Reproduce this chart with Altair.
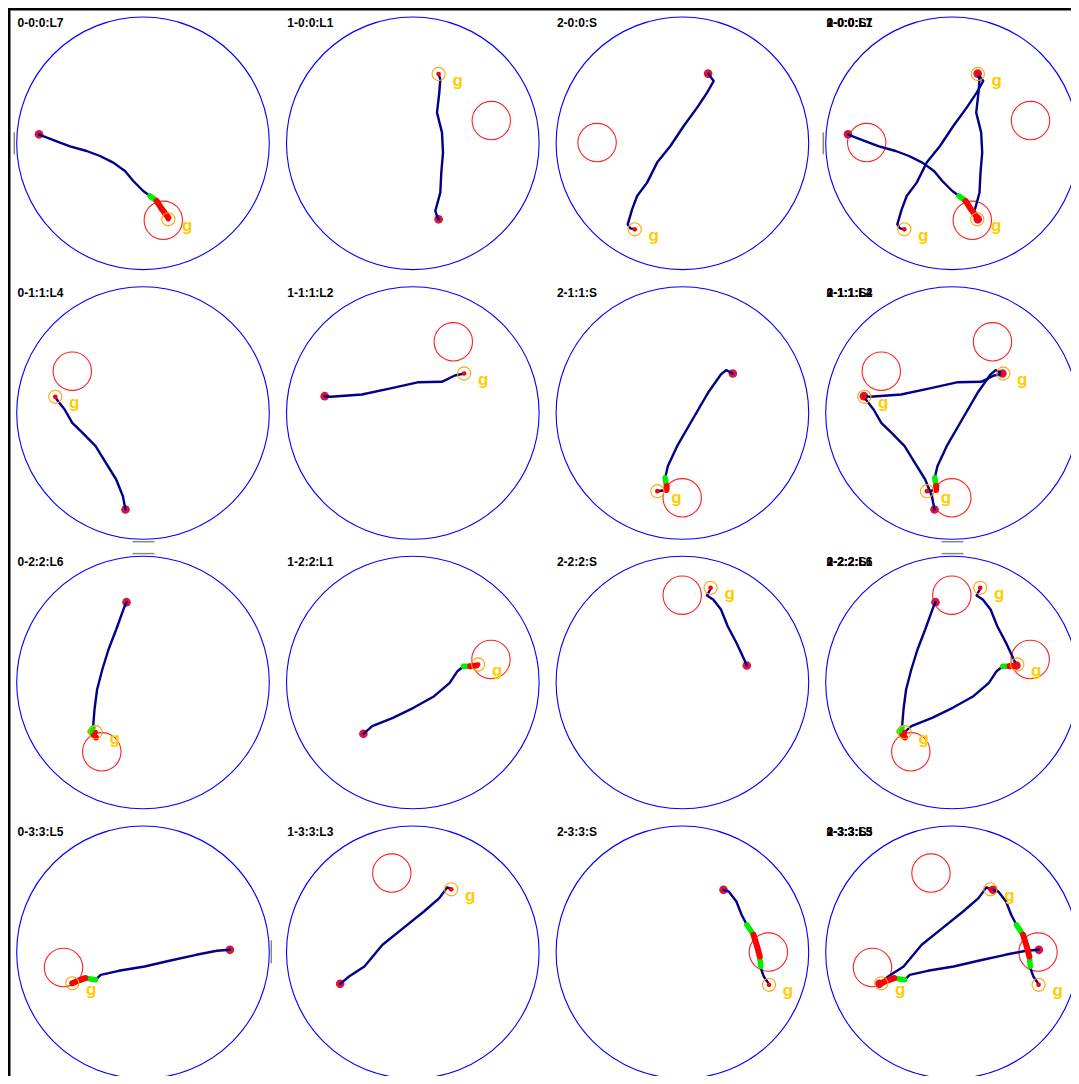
import altair as alt
import pandas as pd

# ---- layout of the 4x4 grid of arenas (page pixels) ----
CX = [143.0, 412.8, 682.4, 952.0]
CY = [143.3, 413.0, 682.5, 952.3]
ARENA_R = 126.3
ZONE_R = 19.2
RING_R = 6.6

LABELS = [["L7", "L1", "S"], ["L4", "L2", "S"], ["L6", "L1", "S"], ["L5", "L3", "S"]]

# ---- trajectories, local coords relative to arena centre (y down) ----
PATH_00 = [(-104, -9), (-101.3, -7.7), (-83, -0.7), (-73, 3), (-56.3, 7.7), (-43, 12.7), (-29.7, 19.3),
           (-18, 27.7), (-9.7, 37.7), (0.3, 47.7), (7, 52.7), (13.7, 57.7), (19, 66), (25.3, 74.3)]
PATH_01 = [(25.8, 76), (24.2, 72.7), (22.5, 67.7), (27.5, 49.3), (28.5, 29.3), (30.2, 9.3), (29.2, -10.7),
           (24.2, -30.7), (26.5, -50.7), (27.5, -64), (25.8, -69.3)]
PATH_02 = [(25.7, -69.7), (31.3, -62.3), (24.7, -50.7), (14.7, -35.7), (1.3, -17.3), (-12, 2.7), (-25.3, 19.3),
           (-35.3, 39.3), (-45.3, 52.7), (-50.3, 66), (-54.7, 81), (-52, 85), (-47.7, 86)]
PATH_10 = [(-17.5, 96.5), (-20.1, 83.2), (-26.8, 66.5), (-37.1, 49.8), (-47.4, 33.2), (-60.4, 19.8),
           (-70.7, 9.8), (-78.4, -3.5), (-86.2, -13.5), (-87.7, -16.2)]
PATH_11 = [(-88.1, -16.8), (-81.9, -16.2), (-50.9, -18.5), (-19.9, -25.2), (5.9, -30.8), (29.1, -31.2),
           (42, -37.5), (51.3, -39.5)]
PATH_12 = [(50.4, -39.5), (43.7, -42.8), (38.5, -38.5), (25.6, -20.2), (10.1, 6.5), (-5.3, 33.2),
           (-14.6, 53.2), (-17.2, 64.8), (-15.7, 74.8), (-16, 77), (-25, 78.2)]
PATH_20 = [(-16.5, -80.3), (-19, -74.7), (-26.8, -53), (-34.5, -33), (-40.7, -13), (-45.9, 7), (-48.5, 27),
           (-50, 45.3), (-53, 49), (-48, 54)]
PATH_21 = [(-49.4, 51.3), (-40.6, 43.7), (-19.9, 35.3), (0.7, 25.3), (21.4, 13.7), (36.9, 0.3), (44.6, -11.3),
           (50.8, -16.3), (57.5, -16.3), (63.7, -17)]
PATH_22 = [(64.4, -17), (61.8, -23), (54, -39.7), (45.3, -56.3), (38.6, -73), (30.8, -83), (24.6, -87),
           (28.2, -93.7)]
PATH_30 = [(86.9, -2.5), (73.9, -1.5), (53.3, 2.5), (27.5, 8.2), (1.6, 14.2), (-24.2, 18.5), (-42.3, 22.5),
           (-47.4, 27.5), (-50, 27.5), (-57.8, 25.8), (-64, 28), (-70.7, 31)]
PATH_31 = [(-72.6, 31.5), (-63.8, 24.2), (-48.4, 14.2), (-30.3, -7.5), (-9.6, -24.2), (11.1, -40.8),
           (26.5, -54.2), (34.3, -64.8), (38.4, -63.5)]
PATH_32 = [(41.1, -62.5), (46.3, -60.8), (54, -50.8), (59.2, -37.5), (64.4, -27.5), (71.1, -17.5),
           (75, -5), (77.3, 4.2), (78.3, 14.2), (78.3, 15.8), (81.4, 24.2), (86.6, 31.8)]

PATHS = [[PATH_00, PATH_01, PATH_02], [PATH_10, PATH_11, PATH_12],
         [PATH_20, PATH_21, PATH_22], [PATH_30, PATH_31, PATH_32]]

GOALS = [[(25.3, 76), (25.8, -69.3), (-47.7, 86)],
         [(-87.7, -16.2), (51.3, -39.5), (-25, 78.2)],
         [(-47.4, 49.7), (65.3, -18), (28.2, -94.7)],
         [(-70.7, 31), (38.4, -63), (86.6, 32.5)]]
ZONES = [[(20.3, 77), (78.5, -22.7), (-85.3, -0.7)],
         [(-70.7, -41.8), (40.5, -71.2), (-0.2, 84.8)],
         [(-41.2, 69.3), (78.2, -23), (-0.2, -87.3)],
         [(-79.5, 15.2), (-21, -79.2), (86, -0.2)]]

GREEN_SEGS = {
    (0, 0): [[(7, 52.7), (13.7, 57.7)]],
    (1, 2): [[(-17.2, 64.8), (-15.7, 74.8)]],
    (2, 0): [[(-50, 45.3), (-53, 49), (-48, 54)]],
    (2, 1): [[(50.8, -16.3), (57.5, -16.3)]],
    (3, 0): [[(-47.4, 27.5), (-57.8, 25.8)]],
    (3, 2): [[(64.4, -27.5), (71.1, -17.5)], [(77.3, 4.2), (78.3, 14.2)]],
}
RED_SEGS = {
    (0, 0): [[(13.7, 57.7), (19, 66), (25.3, 74.3)]],
    (1, 2): [[(-15.7, 73), (-16, 77)]],
    (2, 0): [[(-49, 53), (-47, 55)]],
    (2, 1): [[(57.5, -16.3), (63.7, -17)]],
    (3, 0): [[(-57.8, 25.8), (-64, 28), (-70.7, 31)]],
    (3, 2): [[(71.1, -17.5), (75, -5), (77.3, 4.2)]],
}

# small grey tick artefacts: (row, col, side)
MARKERS = [(0, 0, "left"), (0, 3, "left"), (1, 0, "bottom"), (1, 3, "bottom"),
           (2, 0, "top"), (2, 3, "top"), (3, 0, "right")]

# ---- build tables ----
arenas = pd.DataFrame([{"x": CX[c], "y": CY[r]} for r in range(4) for c in range(4)])
zones, goals, starts, lines, greens, reds, titles = [], [], [], [], [], [], []
for r in range(4):
    for c in range(3):
        for pc in (c, 3):
            ox, oy = CX[pc], CY[r]
            zx, zy = ZONES[r][c]
            zones.append({"x": ox + zx, "y": oy + zy})
            gx, gy = GOALS[r][c]
            goals.append({"x": ox + gx, "y": oy + gy})
            path = PATHS[r][c]
            starts.append({"x": ox + path[0][0], "y": oy + path[0][1]})
            tid = f"{r}-{c}-{pc}"
            for i, (px, py) in enumerate(path):
                lines.append({"id": tid, "i": i, "x": ox + px, "y": oy + py})
            for k, seg in enumerate(GREEN_SEGS.get((r, c), [])):
                for i, (px, py) in enumerate(seg):
                    greens.append({"id": f"{tid}-{k}", "i": i, "x": ox + px, "y": oy + py})
            for k, seg in enumerate(RED_SEGS.get((r, c), [])):
                for i, (px, py) in enumerate(seg):
                    reds.append({"id": f"{tid}-{k}", "i": i, "x": ox + px, "y": oy + py})
            titles.append({"x": ox - ARENA_R + 0.8, "y": oy - 116.5, "t": f"{c}-{r}:{r}:{LABELS[r][c]}"})

W, H = 1063, 1068
frame = pd.DataFrame([
    {"x": 8, "x2": 8 + W, "y": 9.25, "y2": 9.25},
    {"x": 9.25, "x2": 9.25, "y": 8, "y2": 8 + H},
])
marks = []
for r, c, side in MARKERS:
    cx, cy = CX[c], CY[r]
    if side == "left":
        marks.append({"x": cx - 128.7, "x2": cx - 128.7, "y": cy - 11, "y2": cy + 11})
    elif side == "right":
        marks.append({"x": cx + 128.3, "x2": cx + 128.3, "y": cy - 12, "y2": cy + 11})
    elif side == "bottom":
        marks.append({"x": cx - 10.5, "x2": cx + 11.5, "y": cy + 128.7, "y2": cy + 128.7})
    else:
        marks.append({"x": cx - 10.5, "x2": cx + 11.5, "y": cy - 128.9, "y2": cy - 128.9})
marks = pd.DataFrame(marks)

X = alt.X("x:Q", scale=alt.Scale(domain=[8, 8 + W], nice=False, zero=False), axis=None)
Y = alt.Y("y:Q", scale=alt.Scale(domain=[8, 8 + H], nice=False, zero=False, reverse=True), axis=None)

frame_l = alt.Chart(frame).mark_rule(color="black", strokeWidth=2.5).encode(
    x=X, y=Y, x2="x2:Q", y2="y2:Q")
marks_l = alt.Chart(marks).mark_rule(color="#888888", strokeWidth=1.5).encode(
    x=X, y=Y, x2="x2:Q", y2="y2:Q")
arena_l = alt.Chart(arenas).mark_point(shape="circle", filled=False, size=(2 * ARENA_R) ** 2,
                                        color="#0000ff", strokeWidth=1.1, opacity=1).encode(x=X, y=Y)
zone_l = alt.Chart(pd.DataFrame(zones)).mark_point(shape="circle", filled=False, size=(2 * ZONE_R) ** 2,
                                                   color="#ff2020", strokeWidth=1.1, opacity=1).encode(x=X, y=Y)
start_l = alt.Chart(pd.DataFrame(starts)).mark_circle(size=75, color="#dc143c", opacity=1).encode(x=X, y=Y)
line_l = alt.Chart(pd.DataFrame(lines)).mark_line(color="#000088", strokeWidth=2.4, strokeJoin="round",
                                                  strokeCap="round").encode(x=X, y=Y, detail="id:N", order="i:Q")
green_l = alt.Chart(pd.DataFrame(greens)).mark_line(color="#00ee00", strokeWidth=5.5, strokeCap="round",
                                                    strokeJoin="round").encode(x=X, y=Y, detail="id:N", order="i:Q")
red_l = alt.Chart(pd.DataFrame(reds)).mark_line(color="#ff0000", strokeWidth=6, strokeCap="round",
                                                strokeJoin="round").encode(x=X, y=Y, detail="id:N", order="i:Q")
ring_l = alt.Chart(pd.DataFrame(goals)).mark_point(shape="circle", filled=False, size=(2 * RING_R) ** 2,
                                                   color="#ffa500", strokeWidth=1.1, opacity=1).encode(x=X, y=Y)
dot_l = alt.Chart(pd.DataFrame(goals)).mark_circle(size=22, color="#ff0000", opacity=1).encode(x=X, y=Y)
g_l = alt.Chart(pd.DataFrame(goals)).mark_text(text="g", align="center", baseline="alphabetic", dx=19, dy=11.5,
                                               font="Liberation Sans", fontSize=17, fontWeight="bold",
                                               color="#ffcc00").encode(x=X, y=Y)
title_l = alt.Chart(pd.DataFrame(titles)).mark_text(align="left", baseline="alphabetic", font="Liberation Sans",
                                                    fontSize=12, fontWeight="bold", color="black").encode(
    x=X, y=Y, text="t:N")

chart = alt.layer(frame_l, arena_l, zone_l, marks_l, start_l, line_l, green_l, red_l, ring_l, dot_l, g_l,
                  title_l).properties(
    width=W, height=H, padding=0, autosize=alt.AutoSizeParams(type="none"), background="white"
).configure_view(stroke=None)

chart.save("out.html", embed_options={"renderer": "svg", "actions": False})
